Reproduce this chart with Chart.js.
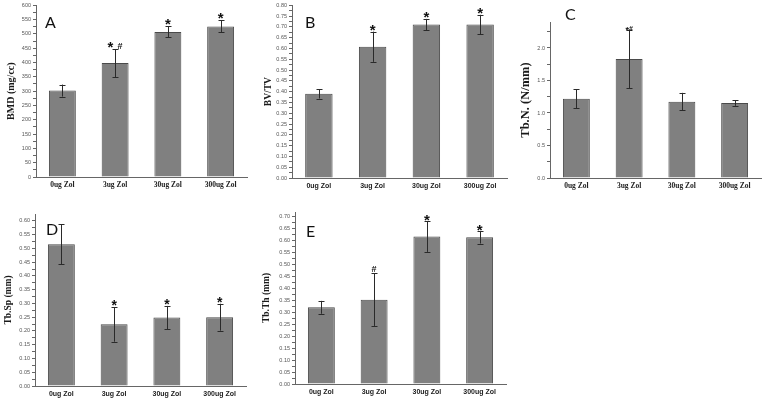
<!DOCTYPE html>
<html><head><meta charset="utf-8">
<script src="https://cdn.jsdelivr.net/npm/chart.js@4/dist/chart.umd.min.js"></script>
<style>
html,body{margin:0;padding:0;background:#fff;width:765px;height:403px;overflow:hidden}
canvas{position:absolute}
</style></head><body>
<canvas id="cA" style="left:0px;top:0px" width="255" height="200"></canvas>
<canvas id="cB" style="left:255px;top:0px" width="255" height="200"></canvas>
<canvas id="cC" style="left:510px;top:0px" width="255" height="200"></canvas>
<canvas id="cD" style="left:0px;top:200px" width="255" height="203"></canvas>
<canvas id="cE" style="left:255px;top:200px" width="255" height="203"></canvas>
<script>
// ---- data ----
const categories = ['0ug Zol', '3ug Zol', '30ug Zol', '300ug Zol'];

const bmdValues = [302, 398, 507, 526];
const bmdErrors = [21, 49, 19, 21];
const bmdMarks = ['', '* #', '*', '*'];
const bmdTicks = ['0','50','100','150','200','250','300','350','400','450','500','550','600'];

const bvtvValues = [0.39, 0.608, 0.711, 0.711];
const bvtvErrors = [0.022, 0.07, 0.026, 0.045];
const bvtvMarks = ['', '*', '*', '*'];
const bvtvTicks = ['0.00','0.05','0.10','0.15','0.20','0.25','0.30','0.35','0.40','0.45','0.50','0.55','0.60','0.65','0.70','0.75','0.80'];

const tbnValues = [1.22, 1.83, 1.175, 1.155];
const tbnErrors = [0.145, 0.45, 0.135, 0.045];
const tbnMarks = ['', '*#', '', ''];
const tbnTicks = ['0.0','0.5','1.0','1.5','2.0'];

const tbspValues = [0.515, 0.224, 0.249, 0.25];
const tbspErrors = [0.072, 0.063, 0.042, 0.049];
const tbspMarks = ['', '*', '*', '*'];
const tbspTicks = ['0.00','0.05','0.10','0.15','0.20','0.25','0.30','0.35','0.40','0.45','0.50','0.55','0.60'];

const tbthValues = [0.321, 0.353, 0.617, 0.614];
const tbthErrors = [0.027, 0.11, 0.064, 0.026];
const tbthMarks = ['', '#', '*', '*'];
const tbthTicks = ['0.00','0.05','0.10','0.15','0.20','0.25','0.30','0.35','0.40','0.45','0.50','0.55','0.60','0.65','0.70'];

// ---- drawing helpers ----
const errorBarPlugin = {
  id: 'errbars',
  afterDatasetsDraw(chart) {
    const o = chart.options.plugins.errbars;
    const ctx = chart.ctx, y = chart.scales.y;
    const meta = chart.getDatasetMeta(0);
    const vals = chart.data.datasets[0].data;
    ctx.save();
    ctx.strokeStyle = '#2a2a2a';
    ctx.lineWidth = 1;
    meta.data.forEach((bar, i) => {
      const x = Math.round(bar.x) + 0.5;
      const yt = y.getPixelForValue(vals[i] + o.errors[i]);
      const yb = y.getPixelForValue(vals[i] - o.errors[i]);
      ctx.beginPath();
      ctx.moveTo(x, yt); ctx.lineTo(x, yb);
      ctx.moveTo(x - 3, Math.round(yt) + 0.5); ctx.lineTo(x + 3, Math.round(yt) + 0.5);
      ctx.moveTo(x - 3, Math.round(yb) + 0.5); ctx.lineTo(x + 3, Math.round(yb) + 0.5);
      ctx.stroke();
      // significance marks
      const s = o.marks[i];
      if (s) {
        const items = s.split('').map(ch => {
          const size = ch === '#' ? o.hashSize : o.starSize;
          const font = 'bold ' + size + 'px ' + o.markFamily;
          ctx.font = font;
          return {ch, size, font, w: ctx.measureText(ch).width};
        });
        const total = items.reduce((a, b) => a + b.w, 0);
        let cx = bar.x - total / 2;
        const center = yt - o.gap;
        ctx.fillStyle = '#111';
        ctx.textAlign = 'left';
        ctx.textBaseline = 'alphabetic';
        items.forEach(it => {
          ctx.font = it.font;
          const base = it.ch === '#' ? center + 0.36 * it.size + o.hashShift : center + 0.57 * it.size;
          if (it.ch !== ' ') ctx.fillText(it.ch, cx, base);
          cx += it.w;
        });
      }
    });
    // panel letter
    ctx.font = o.letterSize + 'px Lato, "Open Sans", sans-serif';
    ctx.fillStyle = '#111';
    ctx.textAlign = 'left';
    ctx.textBaseline = 'alphabetic';
    ctx.fillText(o.letter, o.letterX, o.letterY);
    ctx.restore();
  }
};

function makePanel(id, cfg) {
  const tickVals = cfg.ticks.map(parseFloat);
  const step = tickVals[1] - tickVals[0];
  const allTicks = [];
  tickVals.forEach(v => {
    allTicks.push({value: v});
    if (v + step / 2 < cfg.max) allTicks.push({value: v + step / 2});
  });
  const labelFor = (v) => {
    const k = tickVals.findIndex(t => Math.abs(t - v) < 1e-9);
    return k >= 0 ? cfg.ticks[k] : '';
  };
  const canvas = document.getElementById(id);
  const H = canvas.height, W = canvas.width;
  const xH = 15;
  return new Chart(canvas, {
    type: 'bar',
    data: {
      labels: categories,
      datasets: [{
        data: cfg.values,
        backgroundColor: '#808080',
        borderColor: '#4a4a4a',
        borderWidth: 1,
        barPercentage: 0.51,
        categoryPercentage: 1
      }]
    },
    options: {
      responsive: false,
      animation: false,
      devicePixelRatio: 1,
      layout: {padding: {left: 0, top: cfg.area.top, right: W - cfg.area.right, bottom: H - cfg.area.bottom - xH}},
      plugins: {
        legend: {display: false},
        tooltip: {enabled: false},
        errbars: {
          errors: cfg.errors, marks: cfg.marks,
          starSize: cfg.starSize, hashSize: cfg.hashSize, gap: cfg.gap, hashShift: cfg.hashShift,
          markFamily: '"Liberation Sans", Arial, sans-serif',
          letter: cfg.letter, letterX: cfg.letterX, letterY: cfg.letterY, letterSize: 16
        }
      },
      scales: {
        x: {
          type: 'category',
          offset: true,
          afterFit(s) { s.height = xH; },
          grid: {drawOnChartArea: false, drawTicks: false, color: '#666'},
          border: {color: '#666', width: 1},
          ticks: {
            padding: cfg.xPad,
            color: '#222',
            autoSkip: false,
            maxRotation: 0,
            font: {family: cfg.xFamily, weight: 'bold', size: cfg.xSize}
          }
        },
        y: {
          type: 'linear',
          min: 0,
          max: cfg.max,
          afterFit(s) { s.width = cfg.area.left; },
          afterBuildTicks(s) { s.ticks = allTicks.map(t => ({value: t.value})); },
          grid: {drawOnChartArea: false, drawTicks: true, tickLength: 3, color: '#666'},
          border: {color: '#666', width: 1},
          ticks: {
            autoSkip: false,
            padding: 2,
            color: '#555',
            font: {family: '"Liberation Sans", Arial, sans-serif', size: 5.5},
            callback: (v) => labelFor(v)
          },
          title: {
            display: true,
            text: cfg.title,
            color: '#1a1a1a',
            font: {family: '"Liberation Serif", "Times New Roman", serif', weight: 'bold', size: cfg.titleSize, lineHeight: 1.2},
            padding: {top: cfg.titlePad, bottom: 0}
          }
        }
      }
    },
    plugins: [errorBarPlugin]
  });
}

const serif = '"Liberation Serif", "Times New Roman", serif';
const sans = '"Liberation Sans", Arial, sans-serif';

makePanel('cA', {
  values: bmdValues, errors: bmdErrors, marks: bmdMarks, ticks: bmdTicks, max: 600,
  area: {left: 36, top: 5, right: 247, bottom: 177},
  title: 'BMD (mg/cc)', titleSize: 10, titlePad: 5,
  xFamily: serif, xSize: 7.5, xPad: 4,
  starSize: 15, hashSize: 9, gap: 6, hashShift: 3,
  letter: 'A', letterX: 45, letterY: 28
});
makePanel('cB', {
  values: bvtvValues, errors: bvtvErrors, marks: bvtvMarks, ticks: bvtvTicks, max: 0.8,
  area: {left: 37, top: 5, right: 252, bottom: 178},
  title: 'BV/TV', titleSize: 9.5, titlePad: 7.8,
  xFamily: sans, xSize: 7, xPad: 4,
  starSize: 15, hashSize: 9, gap: 5, hashShift: 0,
  letter: 'B', letterX: 50, letterY: 28
});
makePanel('cC', {
  values: tbnValues, errors: tbnErrors, marks: tbnMarks, ticks: tbnTicks, max: 2.4,
  area: {left: 40, top: 22, right: 251, bottom: 178},
  title: 'Tb.N. (N/mm)', titleSize: 12.5, titlePad: 8.5,
  xFamily: serif, xSize: 7.5, xPad: 4,
  starSize: 9, hashSize: 7, gap: 2, hashShift: 1,
  letter: 'C', letterX: 55, letterY: 20
});
makePanel('cD', {
  values: tbspValues, errors: tbspErrors, marks: tbspMarks, ticks: tbspTicks, max: 0.625,
  area: {left: 35, top: 14, right: 246, bottom: 186},
  title: 'Tb.Sp (mm)', titleSize: 9.5, titlePad: 3.3,
  xFamily: sans, xSize: 7, xPad: 4,
  starSize: 14, hashSize: 9, gap: 5, hashShift: 0,
  letter: 'D', letterX: 46, letterY: 35
});
makePanel('cE', {
  values: tbthValues, errors: tbthErrors, marks: tbthMarks, ticks: tbthTicks, max: 0.72,
  area: {left: 40, top: 12, right: 251, bottom: 184},
  title: 'Tb.Th (mm)', titleSize: 9.5, titlePad: 6.3,
  xFamily: sans, xSize: 7, xPad: 4,
  starSize: 15, hashSize: 9, gap: 5, hashShift: 0,
  letter: 'E', letterX: 51, letterY: 37
});
</script>
</body></html>
